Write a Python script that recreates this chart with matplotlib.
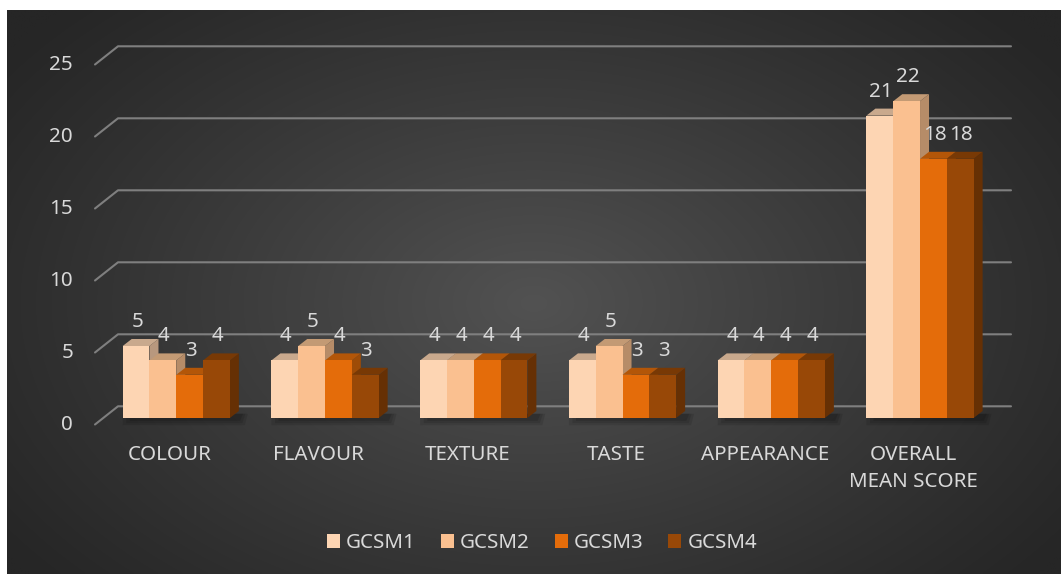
import numpy as np
import matplotlib
matplotlib.use("Agg")
import matplotlib.pyplot as plt
from matplotlib.patches import Polygon, Patch

plt.rcParams['font.family'] = ['Noto Sans', 'DejaVu Sans']

categories = ["COLOUR", "FLAVOUR", "TEXTURE", "TASTE", "APPEARANCE", "OVERALL\nMEAN SCORE"]
series = ["GCSM1", "GCSM2", "GCSM3", "GCSM4"]
gcsm1 = [5, 4, 4, 4, 4, 21]
gcsm2 = [4, 5, 4, 5, 4, 22]
gcsm3 = [3, 4, 4, 3, 4, 18]
gcsm4 = [4, 3, 4, 3, 4, 18]
values = [gcsm1, gcsm2, gcsm3, gcsm4]
yticks = [0, 5, 10, 15, 20, 25]

front_colors = ["#FDD5B3", "#FAC090", "#E46C0A", "#984807"]
top_colors = ["#C9A98D", "#C39A74", "#B35608", "#783905"]
side_colors = ["#B8987E", "#B68C68", "#9E4C07", "#663004"]
txt = "#D9D9D9"
FS = 14.8

W, H = 1061, 574
fig = plt.figure(figsize=(W / 100, H / 100), dpi=100)
fig.patch.set_facecolor("white")

# background radial gradient
bg = fig.add_axes([7 / W, 0, 1 - 7 / W, 564 / H])
gx, gy = np.meshgrid(np.linspace(0, 1, 400), np.linspace(0, 1, 220))
r = np.sqrt(((gx - 0.5) / 0.62) ** 2 + ((gy - 0.52) / 0.75) ** 2)
r = np.clip(r, 0, 1)
g = (38 + 44 * (1 - r) ** 1.1) / 255.0
bg.imshow(np.dstack([g, g, g]), aspect="auto", extent=[0, 1, 0, 1], interpolation="bilinear")
bg.axis("off")

ax = fig.add_axes([101.9 / W, (H - 418) / H, 892.5 / W, 360 / H])
ax.set_xlim(-0.5, 5.5)
ax.set_ylim(0, 25)
ax.axis("off")
ax.patch.set_alpha(0)

ppx = 892.5 / 6.0      # px per category
ppy = 360 / 25.0       # px per unit
bw = 26.8 / ppx
dx = 9 / ppx
dy = 7 / ppy

# gridlines (3D wall)
back_y = 11.7 / ppy
front_y = -6.5 / ppy
x_back0 = (118 - 101.9) / ppx - 0.5
x_front0 = (95 - 101.9) / ppx - 0.5
x_back1 = (1011 - 101.9) / ppx - 0.5
for v in yticks:
    ax.plot([x_front0, x_back0, x_back1], [v + front_y, v + back_y, v + back_y],
            color="#7F7F7F", lw=1.5, clip_on=False, zorder=1, solid_capstyle="round")
    ax.text((73 - 101.9) / ppx - 0.5, v + front_y, str(v), ha="right", va="center",
            fontsize=FS, color=txt, clip_on=False)

x = np.arange(len(categories))
offsets = (np.arange(len(series)) - 1.5) * bw

# floor shadow
for i in x:
    xl = i + offsets[0] - bw / 2
    xr = i + offsets[-1] + bw / 2 + dx
    for k, a in enumerate([0.10, 0.10, 0.12]):
        e = k * 0.08
        ax.add_patch(Polygon([[xl + e * 0.3, -0.05 - 0.15 * (3 - k)], [xr + 0.04 - e * 0.2, -0.05 - 0.15 * (3 - k)],
                              [xr + 0.06 - e * 0.2, dy * 0.6], [xl + e * 0.3, dy * 0.6]],
                             closed=True, facecolor="black", edgecolor="none", alpha=a, zorder=2, clip_on=False))

for s, vals in enumerate(values):
    xs = x + offsets[s]
    z = 3 + s * 0.1
    bars = ax.bar(xs, vals, width=bw, color=front_colors[s], zorder=z + 0.05, linewidth=0)
    for xc, v in zip(xs, vals):
        xl, xr = xc - bw / 2, xc + bw / 2
        ax.add_patch(Polygon([[xr, 0], [xr + dx, dy], [xr + dx, v + dy], [xr, v]],
                             closed=True, facecolor=side_colors[s], edgecolor="none", zorder=z))
        ax.add_patch(Polygon([[xl, v], [xr, v], [xr + dx, v + dy], [xl + dx, v + dy]],
                             closed=True, facecolor=top_colors[s], edgecolor="none", zorder=z))
        ax.text(xc + 1 / ppx, v + 24 / ppy, str(v), ha="center", va="center",
                fontsize=FS, color=txt, zorder=10)

for i, c in enumerate(categories):
    ax.text(i - 6.5 / ppx, -27.5 / ppy, c, ha="center", va="top", fontsize=FS,
            color=txt, linespacing=1.43, clip_on=False)

handles = [Patch(facecolor=c, edgecolor="none") for c in front_colors]
fig.legend(handles, series, loc="center", bbox_to_anchor=(542 / W, (H - 543) / H), ncol=4,
           frameon=False, fontsize=FS, labelcolor=txt, handlelength=0.64, handleheight=0.64,
           handletextpad=0.3, columnspacing=1.2)

fig.savefig("out.png", dpi=100)
